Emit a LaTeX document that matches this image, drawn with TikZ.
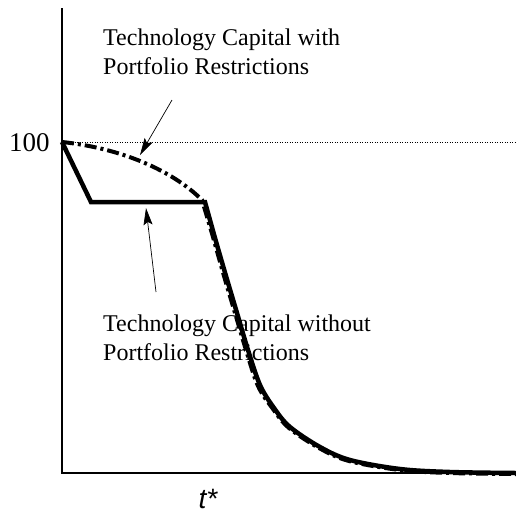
\documentclass[tikz,border=0pt]{standalone}
\usepackage{fontspec}
\setmainfont{Liberation Serif}
\setsansfont{Liberation Sans}
\usetikzlibrary{arrows.meta}
\begin{document}
\begin{tikzpicture}[x=1pt,y=-1pt,
  axisline/.style={line width=2.6pt},
  lbl/.style={font=\fontsize{24}{29}\selectfont, anchor=base west, inner sep=0pt},
  pointer/.style={line width=0.7pt, -{Stealth[length=17pt,width=9pt,inset=3pt]}},
  solidcurve/.style={line width=4.5pt},
  dashcurve/.style={line width=4pt, dash pattern=on 12pt off 4pt on 3pt off 4pt}]
\useasboundingbox (0,0) rectangle (516,515);
% labels
\node[lbl] (upA) at (103,45) {Technology Capital with};
\node[lbl] (upB) at (103,74) {Portfolio Restrictions};
\node[lbl] (loA) at (103,331) {Technology Capital without};
\node[lbl] (loB) at (103,360) {Portfolio Restrictions};
\node[font=\sffamily\itshape\fontsize{28}{30}\selectfont, anchor=base, inner sep=0pt, text depth=0pt] (tstar) at (208,508) {t*};
\node[font=\fontsize{27}{30}\selectfont, anchor=base west, inner sep=0pt] (hundred) at (9,151) {100};
% axes
\coordinate (ytop) at (62,8);
\coordinate (origin) at (62,473);
\coordinate (xend) at (516,473);
\draw[axisline] (ytop) -- (origin) -- (xend);
% reference line at 100
\coordinate (h0) at (62,142);
\coordinate (h1) at (516,142);
\draw[line width=0.7pt, dash pattern=on 1pt off 1.5pt] (h0) -- (h1);
% dash-dot curve (with restrictions)
\draw[dashcurve] (62,142) .. controls (120,148) and (172,170) .. (202,200)
  -- plot[smooth, tension=0.55] coordinates {(202,200) (213,237) (224,276) (235,313) (246,350) (258,386) (273,409) (289,428) (319,448) (349,461) (400,470) (450,473) (516,474)};
% solid curve (without restrictions)
\draw[solidcurve] (62,142) -- (91,202) -- (205,202)
  -- plot[smooth, tension=0.55] coordinates {(205,202) (215,238) (226,276) (237,313) (248,350) (260,385) (274,408) (290,427) (320,447) (350,460) (400,469) (450,472) (516,473)};
% pointers
\coordinate (upTail) at (172,100);
\coordinate (upTip) at (140,155);
\coordinate (loTail) at (156,292);
\coordinate (loTip) at (146,208);
\draw[pointer] (upTail) -- (upTip);
\draw[pointer] (loTail) -- (loTip);
\end{tikzpicture}
\end{document}
